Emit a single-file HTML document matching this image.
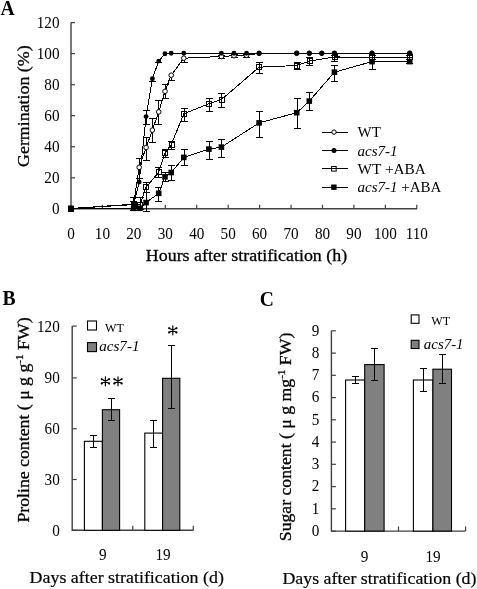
<!DOCTYPE html>
<html><head><meta charset="utf-8"><style>
html,body{margin:0;padding:0;background:#fff;}
svg{display:block;will-change:transform;}
text{font-family:"Liberation Serif",serif;fill:#000;}
.pl{font-size:22px;font-weight:bold;}
.tk{font-size:16px;}
.ti{font-size:17.5px;stroke:#000;stroke-width:0.3px;}
.ti2{font-size:17.5px;stroke:#000;stroke-width:0.2px;}
.lg{font-size:15px;}
.lg2{font-size:13.3px;}
.st{font-size:20px;}
</style></head><body>
<svg width="477" height="589" viewBox="0 0 477 589">
<text transform="translate(0.6 15) scale(0.89 1)" class="pl">A</text>
<path d="M71 22.6V208.8H417" stroke="#404040" stroke-width="1.4" fill="none"/>
<path d="M71 208.8h4" stroke="#404040" stroke-width="1.2"/>
<text transform="translate(59.50 214.20) scale(0.950 1)" class="tk" text-anchor="end">0</text>
<path d="M71 177.8h4" stroke="#404040" stroke-width="1.2"/>
<text transform="translate(59.50 183.17) scale(0.950 1)" class="tk" text-anchor="end">20</text>
<path d="M71 146.7h4" stroke="#404040" stroke-width="1.2"/>
<text transform="translate(59.50 152.13) scale(0.950 1)" class="tk" text-anchor="end">40</text>
<path d="M71 115.7h4" stroke="#404040" stroke-width="1.2"/>
<text transform="translate(59.50 121.10) scale(0.950 1)" class="tk" text-anchor="end">60</text>
<path d="M71 84.7h4" stroke="#404040" stroke-width="1.2"/>
<text transform="translate(59.50 90.06) scale(0.950 1)" class="tk" text-anchor="end">80</text>
<path d="M71 53.6h4" stroke="#404040" stroke-width="1.2"/>
<text transform="translate(59.50 59.03) scale(0.950 1)" class="tk" text-anchor="end">100</text>
<path d="M71 22.6h4" stroke="#404040" stroke-width="1.2"/>
<text transform="translate(59.50 28.00) scale(0.950 1)" class="tk" text-anchor="end">120</text>
<text transform="translate(71.00 238.60) scale(0.950 1)" class="tk" text-anchor="middle">0</text>
<path d="M102.4 208.8v-4" stroke="#404040" stroke-width="1.2"/>
<text transform="translate(102.44 238.60) scale(0.950 1)" class="tk" text-anchor="middle">10</text>
<path d="M133.9 208.8v-4" stroke="#404040" stroke-width="1.2"/>
<text transform="translate(133.87 238.60) scale(0.950 1)" class="tk" text-anchor="middle">20</text>
<path d="M165.3 208.8v-4" stroke="#404040" stroke-width="1.2"/>
<text transform="translate(165.31 238.60) scale(0.950 1)" class="tk" text-anchor="middle">30</text>
<path d="M196.7 208.8v-4" stroke="#404040" stroke-width="1.2"/>
<text transform="translate(196.74 238.60) scale(0.950 1)" class="tk" text-anchor="middle">40</text>
<path d="M228.2 208.8v-4" stroke="#404040" stroke-width="1.2"/>
<text transform="translate(228.18 238.60) scale(0.950 1)" class="tk" text-anchor="middle">50</text>
<path d="M259.6 208.8v-4" stroke="#404040" stroke-width="1.2"/>
<text transform="translate(259.62 238.60) scale(0.950 1)" class="tk" text-anchor="middle">60</text>
<path d="M291.1 208.8v-4" stroke="#404040" stroke-width="1.2"/>
<text transform="translate(291.05 238.60) scale(0.950 1)" class="tk" text-anchor="middle">70</text>
<path d="M322.5 208.8v-4" stroke="#404040" stroke-width="1.2"/>
<text transform="translate(322.49 238.60) scale(0.950 1)" class="tk" text-anchor="middle">80</text>
<path d="M353.9 208.8v-4" stroke="#404040" stroke-width="1.2"/>
<text transform="translate(353.92 238.60) scale(0.950 1)" class="tk" text-anchor="middle">90</text>
<path d="M385.4 208.8v-4" stroke="#404040" stroke-width="1.2"/>
<text transform="translate(385.36 238.60) scale(0.950 1)" class="tk" text-anchor="middle">100</text>
<path d="M416.8 208.8v-4" stroke="#404040" stroke-width="1.2"/>
<text transform="translate(416.80 238.60) scale(0.950 1)" class="tk" text-anchor="middle">110</text>
<text x="145.8" y="261.4" class="ti" textLength="201.4" lengthAdjust="spacingAndGlyphs">Hours after stratification (h)</text>
<text transform="translate(28.5 166.9) rotate(-90)" x="0" y="0" class="ti" textLength="121.5" lengthAdjust="spacingAndGlyphs">Germination (%)</text>
<polyline fill="none" stroke="#000" stroke-width="1" shape-rendering="crispEdges" points="70.8,208.5 133.6,204.2 139.2,167.3 146.1,147.5 152.4,130.1 158.7,111.9 165.0,91.3 171.2,75.2 183.8,58.2 221.4,56.5 234.0,55.7 246.5,55.3 259.1,53.4 296.7,53.3 309.3,53.3 321.8,53.3 334.4,53.3 372.0,53.2 409.7,53.2"/>
<polyline fill="none" stroke="#000" stroke-width="1" shape-rendering="crispEdges" points="70.8,208.5 133.6,204.6 139.2,182.0 146.1,116.6 152.4,78.7 158.7,61.1 165.0,53.8 171.2,53.2 183.8,53.2 221.4,53.2 234.0,53.2 246.5,53.2 259.1,53.2 296.7,53.2 309.3,53.2 321.8,53.2 334.4,53.2 372.0,53.2 409.7,53.2"/>
<polyline fill="none" stroke="#000" stroke-width="1" shape-rendering="crispEdges" points="70.8,208.5 133.6,204.6 139.9,205.0 146.1,187.1 158.7,172.3 165.0,152.9 171.2,144.8 183.8,113.8 208.9,103.7 221.4,99.6 259.1,67.2 296.7,65.5 309.3,61.1 334.4,57.0 372.0,57.1 409.7,57.1"/>
<polyline fill="none" stroke="#000" stroke-width="1" shape-rendering="crispEdges" points="70.8,208.3 133.6,208.3 139.9,208.3 146.1,202.6 158.7,193.3 165.0,176.8 171.2,172.5 183.8,157.4 208.9,149.1 221.4,147.1 259.1,122.9 296.7,112.7 309.3,101.1 334.4,72.2 372.0,61.6 409.7,61.6"/>
<path d="M133.5 197.5V210.5M130.0 197.5h7M130.0 210.5h7" stroke="#000" stroke-width="1" fill="none" shape-rendering="crispEdges"/><path d="M139.5 158.5V178.5M136.0 158.5h7M136.0 178.5h7" stroke="#000" stroke-width="1" fill="none" shape-rendering="crispEdges"/><path d="M146.5 137.5V160.5M143.0 137.5h7M143.0 160.5h7" stroke="#000" stroke-width="1" fill="none" shape-rendering="crispEdges"/><path d="M152.5 118.5V142.5M149.0 118.5h7M149.0 142.5h7" stroke="#000" stroke-width="1" fill="none" shape-rendering="crispEdges"/><path d="M158.5 100.5V124.5M155.0 100.5h7M155.0 124.5h7" stroke="#000" stroke-width="1" fill="none" shape-rendering="crispEdges"/><path d="M165.5 84.5V98.5M162.0 84.5h7M162.0 98.5h7" stroke="#000" stroke-width="1" fill="none" shape-rendering="crispEdges"/><path d="M171.5 75.5V80.5M168.0 80.5h7" stroke="#000" stroke-width="1" fill="none" shape-rendering="crispEdges"/><path d="M184.5 58.5V62.5M181.0 62.5h7" stroke="#000" stroke-width="1" fill="none" shape-rendering="crispEdges"/><path d="M221.5 55.5V58.5M218.0 55.5h7M218.0 58.5h7" stroke="#000" stroke-width="1" fill="none" shape-rendering="crispEdges"/><path d="M234.5 54.5V57.5M231.0 54.5h7M231.0 57.5h7" stroke="#000" stroke-width="1" fill="none" shape-rendering="crispEdges"/><path d="M246.5 54.5V57.5M243.0 54.5h7M243.0 57.5h7" stroke="#000" stroke-width="1" fill="none" shape-rendering="crispEdges"/>
<path d="M133.5 201.5V208.5M130.0 201.5h7M130.0 208.5h7" stroke="#000" stroke-width="1" fill="none" shape-rendering="crispEdges"/><path d="M139.5 178.5V182.5M136.0 178.5h7" stroke="#000" stroke-width="1" fill="none" shape-rendering="crispEdges"/><path d="M146.5 110.5V124.5M143.0 110.5h7M143.0 124.5h7" stroke="#000" stroke-width="1" fill="none" shape-rendering="crispEdges"/><path d="M152.5 78.5V81.5M149.0 81.5h7" stroke="#000" stroke-width="1" fill="none" shape-rendering="crispEdges"/><path d="M158.5 61.5V62.5M155.0 62.5h7" stroke="#000" stroke-width="1" fill="none" shape-rendering="crispEdges"/>
<path d="M133.5 201.5V208.5M130.0 201.5h7M130.0 208.5h7" stroke="#000" stroke-width="1" fill="none" shape-rendering="crispEdges"/><path d="M140.5 197.5V209.5M137.0 197.5h7M137.0 209.5h7" stroke="#000" stroke-width="1" fill="none" shape-rendering="crispEdges"/><path d="M146.5 182.5V192.5M143.0 182.5h7M143.0 192.5h7" stroke="#000" stroke-width="1" fill="none" shape-rendering="crispEdges"/><path d="M158.5 167.5V177.5M155.0 167.5h7M155.0 177.5h7" stroke="#000" stroke-width="1" fill="none" shape-rendering="crispEdges"/><path d="M165.5 149.5V157.5M162.0 149.5h7M162.0 157.5h7" stroke="#000" stroke-width="1" fill="none" shape-rendering="crispEdges"/><path d="M171.5 141.5V149.5M168.0 141.5h7M168.0 149.5h7" stroke="#000" stroke-width="1" fill="none" shape-rendering="crispEdges"/><path d="M184.5 108.5V121.5M181.0 108.5h7M181.0 121.5h7" stroke="#000" stroke-width="1" fill="none" shape-rendering="crispEdges"/><path d="M209.5 98.5V111.5M206.0 98.5h7M206.0 111.5h7" stroke="#000" stroke-width="1" fill="none" shape-rendering="crispEdges"/><path d="M221.5 93.5V107.5M218.0 93.5h7M218.0 107.5h7" stroke="#000" stroke-width="1" fill="none" shape-rendering="crispEdges"/><path d="M259.5 62.5V73.5M256.0 62.5h7M256.0 73.5h7" stroke="#000" stroke-width="1" fill="none" shape-rendering="crispEdges"/><path d="M297.5 62.5V69.5M294.0 62.5h7M294.0 69.5h7" stroke="#000" stroke-width="1" fill="none" shape-rendering="crispEdges"/><path d="M309.5 57.5V65.5M306.0 57.5h7M306.0 65.5h7" stroke="#000" stroke-width="1" fill="none" shape-rendering="crispEdges"/><path d="M334.5 55.5V61.5M331.0 55.5h7M331.0 61.5h7" stroke="#000" stroke-width="1" fill="none" shape-rendering="crispEdges"/><path d="M372.5 55.5V59.5M369.0 55.5h7M369.0 59.5h7" stroke="#000" stroke-width="1" fill="none" shape-rendering="crispEdges"/><path d="M409.5 55.5V59.5M406.0 55.5h7M406.0 59.5h7" stroke="#000" stroke-width="1" fill="none" shape-rendering="crispEdges"/>
<path d="M146.5 192.5V211.5M143.0 192.5h7M143.0 211.5h7" stroke="#000" stroke-width="1" fill="none" shape-rendering="crispEdges"/><path d="M158.5 187.5V201.5M155.0 187.5h7M155.0 201.5h7" stroke="#000" stroke-width="1" fill="none" shape-rendering="crispEdges"/><path d="M165.5 172.5V181.5M162.0 172.5h7M162.0 181.5h7" stroke="#000" stroke-width="1" fill="none" shape-rendering="crispEdges"/><path d="M171.5 165.5V180.5M168.0 165.5h7M168.0 180.5h7" stroke="#000" stroke-width="1" fill="none" shape-rendering="crispEdges"/><path d="M184.5 149.5V165.5M181.0 149.5h7M181.0 165.5h7" stroke="#000" stroke-width="1" fill="none" shape-rendering="crispEdges"/><path d="M209.5 141.5V159.5M206.0 141.5h7M206.0 159.5h7" stroke="#000" stroke-width="1" fill="none" shape-rendering="crispEdges"/><path d="M221.5 139.5V157.5M218.0 139.5h7M218.0 157.5h7" stroke="#000" stroke-width="1" fill="none" shape-rendering="crispEdges"/><path d="M259.5 111.5V137.5M256.0 111.5h7M256.0 137.5h7" stroke="#000" stroke-width="1" fill="none" shape-rendering="crispEdges"/><path d="M297.5 98.5V128.5M294.0 98.5h7M294.0 128.5h7" stroke="#000" stroke-width="1" fill="none" shape-rendering="crispEdges"/><path d="M309.5 92.5V110.5M306.0 92.5h7M306.0 110.5h7" stroke="#000" stroke-width="1" fill="none" shape-rendering="crispEdges"/><path d="M334.5 65.5V81.5M331.0 65.5h7M331.0 81.5h7" stroke="#000" stroke-width="1" fill="none" shape-rendering="crispEdges"/><path d="M372.5 57.5V69.5M369.0 57.5h7M369.0 69.5h7" stroke="#000" stroke-width="1" fill="none" shape-rendering="crispEdges"/><path d="M409.5 57.5V63.5M406.0 57.5h7M406.0 63.5h7" stroke="#000" stroke-width="1" fill="none" shape-rendering="crispEdges"/>
<circle cx="70.8" cy="208.5" r="2.3" fill="#fff" stroke="#000" stroke-width="1"/><circle cx="133.6" cy="204.2" r="2.3" fill="#fff" stroke="#000" stroke-width="1"/><circle cx="139.2" cy="167.3" r="2.3" fill="#fff" stroke="#000" stroke-width="1"/><circle cx="146.1" cy="147.5" r="2.3" fill="#fff" stroke="#000" stroke-width="1"/><circle cx="152.4" cy="130.1" r="2.3" fill="#fff" stroke="#000" stroke-width="1"/><circle cx="158.7" cy="111.9" r="2.3" fill="#fff" stroke="#000" stroke-width="1"/><circle cx="165.0" cy="91.3" r="2.3" fill="#fff" stroke="#000" stroke-width="1"/><circle cx="171.2" cy="75.2" r="2.3" fill="#fff" stroke="#000" stroke-width="1"/><circle cx="183.8" cy="58.2" r="2.3" fill="#fff" stroke="#000" stroke-width="1"/><circle cx="221.4" cy="56.5" r="2.3" fill="#fff" stroke="#000" stroke-width="1"/><circle cx="234.0" cy="55.7" r="2.3" fill="#fff" stroke="#000" stroke-width="1"/><circle cx="246.5" cy="55.3" r="2.3" fill="#fff" stroke="#000" stroke-width="1"/><circle cx="259.1" cy="53.4" r="2.3" fill="#fff" stroke="#000" stroke-width="1"/><circle cx="296.7" cy="53.3" r="2.3" fill="#fff" stroke="#000" stroke-width="1"/><circle cx="309.3" cy="53.3" r="2.3" fill="#fff" stroke="#000" stroke-width="1"/><circle cx="321.8" cy="53.3" r="2.3" fill="#fff" stroke="#000" stroke-width="1"/><circle cx="334.4" cy="53.3" r="2.3" fill="#fff" stroke="#000" stroke-width="1"/><circle cx="372.0" cy="53.2" r="2.3" fill="#fff" stroke="#000" stroke-width="1"/><circle cx="409.7" cy="53.2" r="2.3" fill="#fff" stroke="#000" stroke-width="1"/>
<circle cx="70.8" cy="208.5" r="2.45" fill="#000"/><circle cx="133.6" cy="204.6" r="2.45" fill="#000"/><circle cx="139.2" cy="182.0" r="2.45" fill="#000"/><circle cx="146.1" cy="116.6" r="2.45" fill="#000"/><circle cx="152.4" cy="78.7" r="2.45" fill="#000"/><circle cx="158.7" cy="61.1" r="2.45" fill="#000"/><circle cx="165.0" cy="53.8" r="2.45" fill="#000"/><circle cx="171.2" cy="53.2" r="2.45" fill="#000"/><circle cx="183.8" cy="53.2" r="2.45" fill="#000"/><circle cx="221.4" cy="53.2" r="2.45" fill="#000"/><circle cx="234.0" cy="53.2" r="2.45" fill="#000"/><circle cx="246.5" cy="53.2" r="2.45" fill="#000"/><circle cx="259.1" cy="53.2" r="2.45" fill="#000"/><circle cx="296.7" cy="53.2" r="2.45" fill="#000"/><circle cx="309.3" cy="53.2" r="2.45" fill="#000"/><circle cx="321.8" cy="53.2" r="2.45" fill="#000"/><circle cx="334.4" cy="53.2" r="2.45" fill="#000"/><circle cx="372.0" cy="53.2" r="2.45" fill="#000"/><circle cx="409.7" cy="53.2" r="2.45" fill="#000"/>
<rect x="68.5" y="206.5" width="5" height="5" fill="none" stroke="#000" stroke-width="1" shape-rendering="crispEdges"/><rect x="131.5" y="202.5" width="5" height="5" fill="none" stroke="#000" stroke-width="1" shape-rendering="crispEdges"/><rect x="137.5" y="202.5" width="5" height="5" fill="none" stroke="#000" stroke-width="1" shape-rendering="crispEdges"/><rect x="143.5" y="184.5" width="5" height="5" fill="none" stroke="#000" stroke-width="1" shape-rendering="crispEdges"/><rect x="156.5" y="169.5" width="5" height="5" fill="none" stroke="#000" stroke-width="1" shape-rendering="crispEdges"/><rect x="162.5" y="150.5" width="5" height="5" fill="none" stroke="#000" stroke-width="1" shape-rendering="crispEdges"/><rect x="169.5" y="142.5" width="5" height="5" fill="none" stroke="#000" stroke-width="1" shape-rendering="crispEdges"/><rect x="181.5" y="111.5" width="5" height="5" fill="none" stroke="#000" stroke-width="1" shape-rendering="crispEdges"/><rect x="206.5" y="101.5" width="5" height="5" fill="none" stroke="#000" stroke-width="1" shape-rendering="crispEdges"/><rect x="219.5" y="97.5" width="5" height="5" fill="none" stroke="#000" stroke-width="1" shape-rendering="crispEdges"/><rect x="256.5" y="64.5" width="5" height="5" fill="none" stroke="#000" stroke-width="1" shape-rendering="crispEdges"/><rect x="294.5" y="63.5" width="5" height="5" fill="none" stroke="#000" stroke-width="1" shape-rendering="crispEdges"/><rect x="307.5" y="58.5" width="5" height="5" fill="none" stroke="#000" stroke-width="1" shape-rendering="crispEdges"/><rect x="332.5" y="54.5" width="5" height="5" fill="none" stroke="#000" stroke-width="1" shape-rendering="crispEdges"/><rect x="369.5" y="54.5" width="5" height="5" fill="none" stroke="#000" stroke-width="1" shape-rendering="crispEdges"/><rect x="407.5" y="54.5" width="5" height="5" fill="none" stroke="#000" stroke-width="1" shape-rendering="crispEdges"/>
<rect x="68.0" y="205.5" width="5.6" height="5.6" fill="#000"/><rect x="130.8" y="205.5" width="5.6" height="5.6" fill="#000"/><rect x="137.1" y="205.5" width="5.6" height="5.6" fill="#000"/><rect x="143.3" y="199.8" width="5.6" height="5.6" fill="#000"/><rect x="155.9" y="190.5" width="5.6" height="5.6" fill="#000"/><rect x="162.2" y="174.0" width="5.6" height="5.6" fill="#000"/><rect x="168.4" y="169.7" width="5.6" height="5.6" fill="#000"/><rect x="181.0" y="154.6" width="5.6" height="5.6" fill="#000"/><rect x="206.1" y="146.3" width="5.6" height="5.6" fill="#000"/><rect x="218.6" y="144.3" width="5.6" height="5.6" fill="#000"/><rect x="256.3" y="120.1" width="5.6" height="5.6" fill="#000"/><rect x="293.9" y="109.9" width="5.6" height="5.6" fill="#000"/><rect x="306.5" y="98.3" width="5.6" height="5.6" fill="#000"/><rect x="331.6" y="69.4" width="5.6" height="5.6" fill="#000"/><rect x="369.2" y="58.8" width="5.6" height="5.6" fill="#000"/><rect x="406.9" y="58.8" width="5.6" height="5.6" fill="#000"/>
<path d="M322 132.1H347.7" stroke="#000" stroke-width="1" shape-rendering="crispEdges"/>
<circle cx="334" cy="132.1" r="2.2" fill="#fff" stroke="#000" stroke-width="1"/>
<text x="357.5" y="137.1" class="lg">WT</text>
<path d="M322 150.6H347.7" stroke="#000" stroke-width="1" shape-rendering="crispEdges"/>
<circle cx="334" cy="150.6" r="2.5" fill="#000"/>
<text x="357.5" y="155.6" class="lg" font-style="italic">acs7-1</text>
<path d="M322 168.8H347.7" stroke="#000" stroke-width="1" shape-rendering="crispEdges"/>
<rect x="331.6" y="166.5" width="4.6" height="4.6" fill="none" stroke="#000" stroke-width="1"/>
<text x="357.5" y="173.8" class="lg" textLength="68.4" lengthAdjust="spacingAndGlyphs">WT +ABA</text>
<path d="M322 187.2H347.7" stroke="#000" stroke-width="1" shape-rendering="crispEdges"/>
<rect x="331.2" y="184.5" width="5.4" height="5.4" fill="#000"/>
<text x="357.5" y="192.2" class="lg"><tspan font-style="italic">acs7-1</tspan> +ABA</text>
<text transform="translate(2.5 305.3) scale(0.89 1)" class="pl">B</text>
<path d="M72.2 326.1V530.3H193.3" stroke="#404040" stroke-width="1.4" fill="none"/>
<path d="M72.2 530.3h4.5" stroke="#404040" stroke-width="1.2"/>
<text transform="translate(59.80 535.70) scale(0.950 1)" class="tk" text-anchor="end">0</text>
<path d="M72.2 479.5h4.5" stroke="#404040" stroke-width="1.2"/>
<text transform="translate(59.80 484.90) scale(0.950 1)" class="tk" text-anchor="end">30</text>
<path d="M72.2 428.8h4.5" stroke="#404040" stroke-width="1.2"/>
<text transform="translate(59.80 434.20) scale(0.950 1)" class="tk" text-anchor="end">60</text>
<path d="M72.2 377.9h4.5" stroke="#404040" stroke-width="1.2"/>
<text transform="translate(59.80 383.30) scale(0.950 1)" class="tk" text-anchor="end">90</text>
<path d="M72.2 326.1h4.5" stroke="#404040" stroke-width="1.2"/>
<text transform="translate(59.80 331.50) scale(0.950 1)" class="tk" text-anchor="end">120</text>
<path d="M132.8 530.3v-4.5M193.3 530.3v-4.5" stroke="#404040" stroke-width="1.2"/>
<rect x="84.4" y="441.3" width="18.0" height="89.0" fill="#fff" stroke="#000" stroke-width="1.1"/>
<rect x="102.4" y="409.7" width="17.2" height="120.6" fill="#808080" stroke="#000" stroke-width="1.1"/>
<rect x="144.8" y="433.1" width="17.8" height="97.2" fill="#fff" stroke="#000" stroke-width="1.1"/>
<rect x="162.6" y="378.3" width="17.2" height="152.0" fill="#808080" stroke="#000" stroke-width="1.1"/>
<path d="M93.5 435.5V447.5M90.0 435.5h7M90.0 447.5h7" stroke="#000" stroke-width="1" fill="none" shape-rendering="crispEdges"/>
<path d="M111.5 398.5V420.5M108.0 398.5h7M108.0 420.5h7" stroke="#000" stroke-width="1" fill="none" shape-rendering="crispEdges"/>
<path d="M153.5 420.5V447.5M150.0 420.5h7M150.0 447.5h7" stroke="#000" stroke-width="1" fill="none" shape-rendering="crispEdges"/>
<path d="M171.5 345.5V408.5M168.0 345.5h7M168.0 408.5h7" stroke="#000" stroke-width="1" fill="none" shape-rendering="crispEdges"/>
<rect x="87.5" y="321" width="9" height="9" fill="#fff" stroke="#000" stroke-width="1.1"/>
<text x="105" y="331.5" class="lg2" textLength="18.8" lengthAdjust="spacingAndGlyphs">WT</text>
<rect x="87.5" y="342.6" width="9" height="9" fill="#808080" stroke="#000" stroke-width="1.1"/>
<text x="99.2" y="351.3" class="lg" font-style="italic" textLength="40.3" lengthAdjust="spacingAndGlyphs">acs7-1</text>
<path d="M105.4 376.8V385.8M101.5 379.0L109.3 383.6M101.5 383.6L109.3 379.0" stroke="#000" stroke-width="1.2" stroke-linecap="round"/><circle cx="101.8" cy="379.2" r="1.05" fill="#000"/><circle cx="109.0" cy="383.4" r="1.05" fill="#000"/><circle cx="101.8" cy="383.4" r="1.05" fill="#000"/><circle cx="109.0" cy="379.2" r="1.05" fill="#000"/>
<path d="M118.0 376.8V385.8M114.1 379.0L121.9 383.6M114.1 383.6L121.9 379.0" stroke="#000" stroke-width="1.2" stroke-linecap="round"/><circle cx="114.4" cy="379.2" r="1.05" fill="#000"/><circle cx="121.6" cy="383.4" r="1.05" fill="#000"/><circle cx="114.4" cy="383.4" r="1.05" fill="#000"/><circle cx="121.6" cy="379.2" r="1.05" fill="#000"/>
<path d="M172.8 325.8V334.8M168.9 328.0L176.7 332.6M168.9 332.6L176.7 328.0" stroke="#000" stroke-width="1.2" stroke-linecap="round"/><circle cx="169.2" cy="328.2" r="1.05" fill="#000"/><circle cx="176.4" cy="332.4" r="1.05" fill="#000"/><circle cx="169.2" cy="332.4" r="1.05" fill="#000"/><circle cx="176.4" cy="328.2" r="1.05" fill="#000"/>
<text transform="translate(102.80 560.20) scale(0.950 1)" class="tk" text-anchor="middle">9</text>
<text transform="translate(163.00 560.20) scale(0.950 1)" class="tk" text-anchor="middle">19</text>
<text x="29.6" y="582.9" class="ti2" textLength="194.3" lengthAdjust="spacingAndGlyphs">Days after stratification (d)</text>
<text transform="translate(29.4 522.6) rotate(-90)" class="ti" textLength="205.2" lengthAdjust="spacingAndGlyphs">Proline content ( μ g g<tspan dy="-6" font-size="11">-1</tspan><tspan dy="6"> FW)</tspan></text>
<text transform="translate(259.7 306.3) scale(0.89 1)" class="pl">C</text>
<path d="M331.4 330.8V531.1H465.6" stroke="#404040" stroke-width="1.4" fill="none"/>
<path d="M331.4 531.1h4.5" stroke="#404040" stroke-width="1.2"/>
<text transform="translate(319.30 535.90) scale(0.950 1)" class="tk" text-anchor="end">0</text>
<path d="M331.4 508.8h4.5" stroke="#404040" stroke-width="1.2"/>
<text transform="translate(319.30 513.64) scale(0.950 1)" class="tk" text-anchor="end">1</text>
<path d="M331.4 486.6h4.5" stroke="#404040" stroke-width="1.2"/>
<text transform="translate(319.30 491.39) scale(0.950 1)" class="tk" text-anchor="end">2</text>
<path d="M331.4 464.3h4.5" stroke="#404040" stroke-width="1.2"/>
<text transform="translate(319.30 469.13) scale(0.950 1)" class="tk" text-anchor="end">3</text>
<path d="M331.4 442.1h4.5" stroke="#404040" stroke-width="1.2"/>
<text transform="translate(319.30 446.88) scale(0.950 1)" class="tk" text-anchor="end">4</text>
<path d="M331.4 419.8h4.5" stroke="#404040" stroke-width="1.2"/>
<text transform="translate(319.30 424.62) scale(0.950 1)" class="tk" text-anchor="end">5</text>
<path d="M331.4 397.6h4.5" stroke="#404040" stroke-width="1.2"/>
<text transform="translate(319.30 402.37) scale(0.950 1)" class="tk" text-anchor="end">6</text>
<path d="M331.4 375.3h4.5" stroke="#404040" stroke-width="1.2"/>
<text transform="translate(319.30 380.11) scale(0.950 1)" class="tk" text-anchor="end">7</text>
<path d="M331.4 353.1h4.5" stroke="#404040" stroke-width="1.2"/>
<text transform="translate(319.30 357.86) scale(0.950 1)" class="tk" text-anchor="end">8</text>
<path d="M331.4 330.8h4.5" stroke="#404040" stroke-width="1.2"/>
<text transform="translate(319.30 335.60) scale(0.950 1)" class="tk" text-anchor="end">9</text>
<path d="M398.5 531.1v-4.5M465.6 531.1v-4.5" stroke="#404040" stroke-width="1.2"/>
<rect x="345.6" y="380.0" width="19.1" height="151.1" fill="#fff" stroke="#000" stroke-width="1.1"/>
<rect x="364.7" y="364.6" width="19.4" height="166.5" fill="#808080" stroke="#000" stroke-width="1.1"/>
<rect x="413.4" y="380.0" width="19.5" height="151.1" fill="#fff" stroke="#000" stroke-width="1.1"/>
<rect x="432.9" y="369.2" width="18.6" height="161.9" fill="#808080" stroke="#000" stroke-width="1.1"/>
<path d="M355.5 376.5V383.5M352.0 376.5h7M352.0 383.5h7" stroke="#000" stroke-width="1" fill="none" shape-rendering="crispEdges"/>
<path d="M374.5 348.5V380.5M371.0 348.5h7M371.0 380.5h7" stroke="#000" stroke-width="1" fill="none" shape-rendering="crispEdges"/>
<path d="M423.5 368.5V391.5M420.0 368.5h7M420.0 391.5h7" stroke="#000" stroke-width="1" fill="none" shape-rendering="crispEdges"/>
<path d="M442.5 354.5V383.5M439.0 354.5h7M439.0 383.5h7" stroke="#000" stroke-width="1" fill="none" shape-rendering="crispEdges"/>
<rect x="411.2" y="314.9" width="7.8" height="8.4" fill="#fff" stroke="#000" stroke-width="1.1"/>
<text x="431.3" y="324.6" class="lg2" textLength="18.8" lengthAdjust="spacingAndGlyphs">WT</text>
<rect x="411.2" y="340.3" width="7.8" height="8.2" fill="#808080" stroke="#000" stroke-width="1.1"/>
<text x="423.8" y="349" class="lg" font-style="italic" textLength="39.8" lengthAdjust="spacingAndGlyphs">acs7-1</text>
<text transform="translate(364.50 562.00) scale(0.950 1)" class="tk" text-anchor="middle">9</text>
<text transform="translate(433.10 562.00) scale(0.950 1)" class="tk" text-anchor="middle">19</text>
<text x="282.4" y="583.7" class="ti2" textLength="194.1" lengthAdjust="spacingAndGlyphs">Days after stratification (d)</text>
<text transform="translate(290.6 541.2) rotate(-90)" class="ti" textLength="208.5" lengthAdjust="spacingAndGlyphs">Sugar content ( μ g mg<tspan dy="-6" font-size="11">-1</tspan><tspan dy="6"> FW)</tspan></text>
</svg>
</body></html>
